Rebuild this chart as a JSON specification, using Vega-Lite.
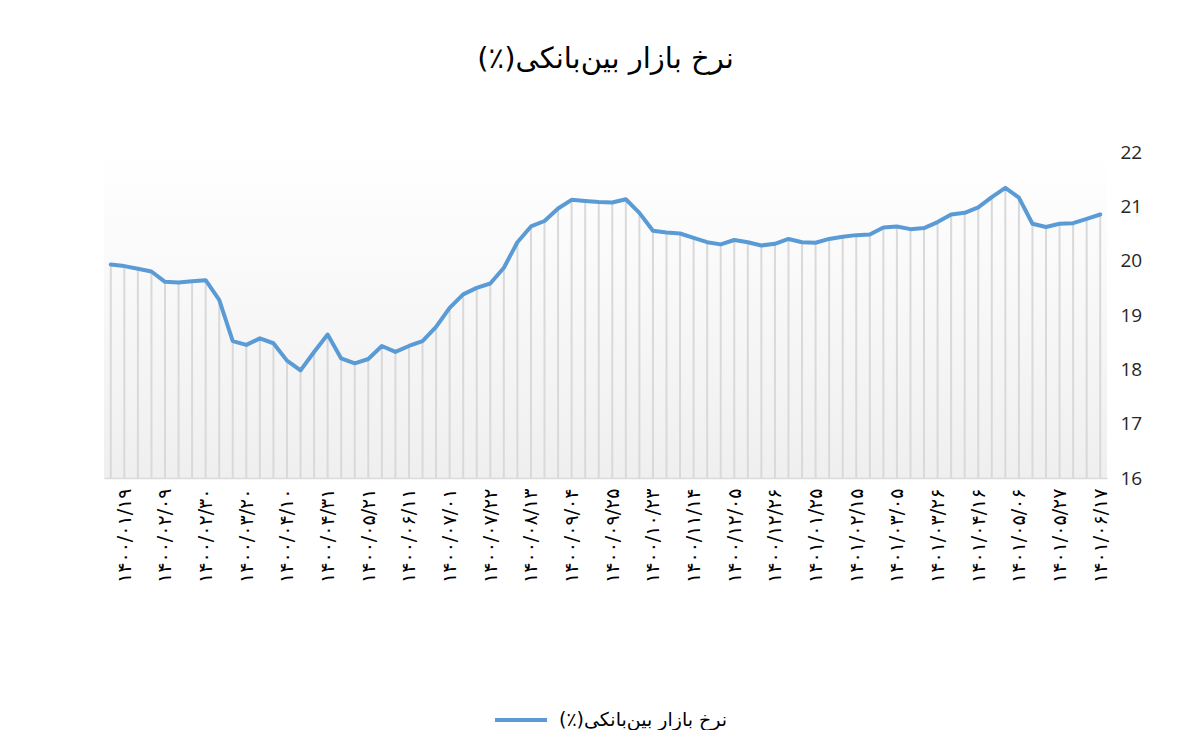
{
  "$schema": "https://vega.github.io/schema/vega-lite/v6.json",
  "width": 1003,
  "height": 326,
  "autosize": {"type": "pad"},
  "padding": {"left": 104, "top": 45, "right": 0, "bottom": 0},
  "background": "white",
  "title": {"text": "نرخ بازار بین‌بانکی(٪)‏", "font": "DejaVu Sans", "fontSize": 29, "fontWeight": "normal", "color": "#000000", "offset": 69, "anchor": "middle"},
  "config": {
    "view": {"stroke": null, "fill": {"gradient": "linear", "x1": 0, "y1": 0, "x2": 0, "y2": 1, "stops": [{"offset": 0, "color": "#ffffff"}, {"offset": 0.13, "color": "#fdfdfd"}, {"offset": 1, "color": "#efefef"}]}}
  },
  "data": {"values": [
    {"d": "۱۴۰۰/۰۱/۱۲", "v": 19.93}, {"d": "۱۴۰۰/۰۱/۱۹", "v": 19.90}, {"d": "۱۴۰۰/۰۱/۲۶", "v": 19.85}, {"d": "۱۴۰۰/۰۲/۰۲", "v": 19.80},
    {"d": "۱۴۰۰/۰۲/۰۹", "v": 19.61}, {"d": "۱۴۰۰/۰۲/۱۶", "v": 19.60}, {"d": "۱۴۰۰/۰۲/۲۳", "v": 19.62}, {"d": "۱۴۰۰/۰۲/۳۰", "v": 19.64},
    {"d": "۱۴۰۰/۰۳/۰۶", "v": 19.28}, {"d": "۱۴۰۰/۰۳/۱۳", "v": 18.52}, {"d": "۱۴۰۰/۰۳/۲۰", "v": 18.45}, {"d": "۱۴۰۰/۰۳/۲۷", "v": 18.57},
    {"d": "۱۴۰۰/۰۴/۰۳", "v": 18.48}, {"d": "۱۴۰۰/۰۴/۱۰", "v": 18.16}, {"d": "۱۴۰۰/۰۴/۱۷", "v": 17.98}, {"d": "۱۴۰۰/۰۴/۲۴", "v": 18.32},
    {"d": "۱۴۰۰/۰۴/۳۱", "v": 18.64}, {"d": "۱۴۰۰/۰۵/۰۷", "v": 18.20}, {"d": "۱۴۰۰/۰۵/۱۴", "v": 18.11}, {"d": "۱۴۰۰/۰۵/۲۱", "v": 18.19},
    {"d": "۱۴۰۰/۰۵/۲۸", "v": 18.43}, {"d": "۱۴۰۰/۰۶/۰۴", "v": 18.32}, {"d": "۱۴۰۰/۰۶/۱۱", "v": 18.43}, {"d": "۱۴۰۰/۰۶/۱۸", "v": 18.52},
    {"d": "۱۴۰۰/۰۶/۲۵", "v": 18.78}, {"d": "۱۴۰۰/۰۷/۰۱", "v": 19.13}, {"d": "۱۴۰۰/۰۷/۰۸", "v": 19.38}, {"d": "۱۴۰۰/۰۷/۱۵", "v": 19.50},
    {"d": "۱۴۰۰/۰۷/۲۲", "v": 19.58}, {"d": "۱۴۰۰/۰۷/۲۹", "v": 19.87}, {"d": "۱۴۰۰/۰۸/۰۶", "v": 20.34}, {"d": "۱۴۰۰/۰۸/۱۳", "v": 20.63},
    {"d": "۱۴۰۰/۰۸/۲۰", "v": 20.73}, {"d": "۱۴۰۰/۰۸/۲۷", "v": 20.96}, {"d": "۱۴۰۰/۰۹/۰۴", "v": 21.12}, {"d": "۱۴۰۰/۰۹/۱۱", "v": 21.10},
    {"d": "۱۴۰۰/۰۹/۱۸", "v": 21.08}, {"d": "۱۴۰۰/۰۹/۲۵", "v": 21.07}, {"d": "۱۴۰۰/۱۰/۰۲", "v": 21.13}, {"d": "۱۴۰۰/۱۰/۰۹", "v": 20.88},
    {"d": "۱۴۰۰/۱۰/۲۳", "v": 20.55}, {"d": "۱۴۰۰/۱۰/۳۰", "v": 20.52}, {"d": "۱۴۰۰/۱۱/۰۷", "v": 20.50}, {"d": "۱۴۰۰/۱۱/۱۴", "v": 20.42},
    {"d": "۱۴۰۰/۱۱/۲۱", "v": 20.34}, {"d": "۱۴۰۰/۱۱/۲۸", "v": 20.30}, {"d": "۱۴۰۰/۱۲/۰۵", "v": 20.38}, {"d": "۱۴۰۰/۱۲/۱۲", "v": 20.34},
    {"d": "۱۴۰۰/۱۲/۱۹", "v": 20.28}, {"d": "۱۴۰۰/۱۲/۲۶", "v": 20.31}, {"d": "۱۴۰۱/۰۱/۱۱", "v": 20.40}, {"d": "۱۴۰۱/۰۱/۱۸", "v": 20.34},
    {"d": "۱۴۰۱/۰۱/۲۵", "v": 20.33}, {"d": "۱۴۰۱/۰۲/۰۱", "v": 20.40}, {"d": "۱۴۰۱/۰۲/۰۸", "v": 20.44}, {"d": "۱۴۰۱/۰۲/۱۵", "v": 20.47},
    {"d": "۱۴۰۱/۰۲/۲۲", "v": 20.48}, {"d": "۱۴۰۱/۰۲/۲۹", "v": 20.61}, {"d": "۱۴۰۱/۰۳/۰۵", "v": 20.63}, {"d": "۱۴۰۱/۰۳/۱۲", "v": 20.58},
    {"d": "۱۴۰۱/۰۳/۱۹", "v": 20.60}, {"d": "۱۴۰۱/۰۳/۲۶", "v": 20.71}, {"d": "۱۴۰۱/۰۴/۰۲", "v": 20.85}, {"d": "۱۴۰۱/۰۴/۰۹", "v": 20.88},
    {"d": "۱۴۰۱/۰۴/۱۶", "v": 20.98}, {"d": "۱۴۰۱/۰۴/۲۳", "v": 21.17}, {"d": "۱۴۰۱/۰۴/۳۰", "v": 21.34}, {"d": "۱۴۰۱/۰۵/۰۶", "v": 21.16},
    {"d": "۱۴۰۱/۰۵/۱۳", "v": 20.68}, {"d": "۱۴۰۱/۰۵/۲۰", "v": 20.62}, {"d": "۱۴۰۱/۰۵/۲۷", "v": 20.68}, {"d": "۱۴۰۱/۰۶/۰۳", "v": 20.69},
    {"d": "۱۴۰۱/۰۶/۱۰", "v": 20.77}, {"d": "۱۴۰۱/۰۶/۱۷", "v": 20.85}
  ]},
  "encoding": {
    "x": {
      "field": "d", "type": "ordinal", "sort": null,
      "scale": {"type": "point", "padding": 0.5},
      "axis": {
        "title": null, "grid": false, "ticks": false,
        "values": ["۱۴۰۰/۰۱/۱۹", "۱۴۰۰/۰۲/۰۹", "۱۴۰۰/۰۲/۳۰", "۱۴۰۰/۰۳/۲۰", "۱۴۰۰/۰۴/۱۰", "۱۴۰۰/۰۴/۳۱", "۱۴۰۰/۰۵/۲۱", "۱۴۰۰/۰۶/۱۱", "۱۴۰۰/۰۷/۰۱", "۱۴۰۰/۰۷/۲۲", "۱۴۰۰/۰۸/۱۳", "۱۴۰۰/۰۹/۰۴", "۱۴۰۰/۰۹/۲۵", "۱۴۰۰/۱۰/۲۳", "۱۴۰۰/۱۱/۱۴", "۱۴۰۰/۱۲/۰۵", "۱۴۰۰/۱۲/۲۶", "۱۴۰۱/۰۱/۲۵", "۱۴۰۱/۰۲/۱۵", "۱۴۰۱/۰۳/۰۵", "۱۴۰۱/۰۳/۲۶", "۱۴۰۱/۰۴/۱۶", "۱۴۰۱/۰۵/۰۶", "۱۴۰۱/۰۵/۲۷", "۱۴۰۱/۰۶/۱۷"],
        "labelAngle": -90, "labelFont": "DejaVu Sans", "labelFontSize": 19, "labelColor": "#000000",
        "labelPadding": 10, "domainColor": "#d9d9d9", "domainWidth": 1.5, "labelOverlap": false
      }
    },
    "y": {
      "field": "v", "type": "quantitative",
      "scale": {"domain": [16, 22], "nice": false, "zero": false},
      "axis": {
        "orient": "right", "title": null, "grid": false, "ticks": false, "domain": false,
        "values": [16, 17, 18, 19, 20, 21, 22],
        "labelFont": "Open Sans", "labelFontSize": 19, "labelColor": "#262626", "labelPadding": 13
      }
    }
  },
  "layer": [
    {
      "mark": {"type": "rule", "color": "#d9d9d9", "strokeWidth": 2},
      "encoding": {"y2": {"datum": 16}}
    },
    {
      "mark": {"type": "line", "strokeWidth": 4, "strokeCap": "round", "strokeJoin": "round"},
      "encoding": {
        "color": {
          "datum": "نرخ بازار بین‌بانکی(٪)", "type": "nominal",
          "scale": {"range": ["#5b9bd5"]},
          "legend": {
            "title": null, "orient": "none", "legendX": 389, "legendY": 540, "direction": "horizontal",
            "symbolType": "stroke", "symbolSize": 2700, "symbolStrokeWidth": 4, "symbolStrokeColor": "#5b9bd5",
            "labelFont": "DejaVu Sans", "labelFontSize": 19, "labelColor": "#000000", "labelLimit": 400, "labelOffset": 10,
            "labelExpr": "datum.label + '‏'"
          }
        }
      }
    }
  ]
}
